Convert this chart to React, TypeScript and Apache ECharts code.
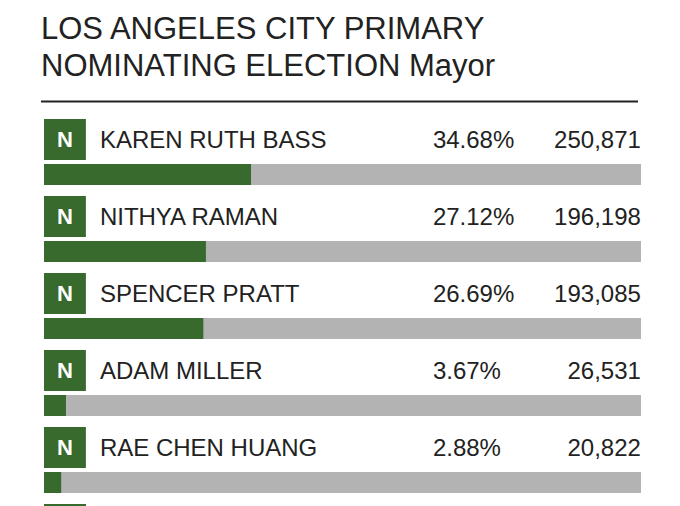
import React, { useEffect, useRef } from "react";
import * as echarts from "echarts";

const TITLE_LINES = ["LOS ANGELES CITY PRIMARY", "NOMINATING ELECTION Mayor"];
const PARTY = ["N", "N", "N", "N", "N", ""];
const NAMES = ["KAREN RUTH BASS", "NITHYA RAMAN", "SPENCER PRATT", "ADAM MILLER", "RAE CHEN HUANG", ""];
const PERCENTS = [34.68, 27.12, 26.69, 3.67, 2.88, 0];
const VOTES = ["250,871", "196,198", "193,085", "26,531", "20,822", ""];

const GREEN = "#376a2c";
const GRAY = "#b3b3b3";
const TEXT = "#222222";
const FONT = "'Liberation Sans', Arial, Helvetica, sans-serif";

export default function App() {
  const ref = useRef<HTMLDivElement>(null);
  useEffect(() => {
    if (!ref.current) return;
    const chart = echarts.init(ref.current, undefined, { renderer: "svg" });
    chart.setOption({
      animation: false,
      backgroundColor: "#ffffff",
      textStyle: { fontFamily: FONT },
      title: {
        text: TITLE_LINES.join("\n"),
        left: 41,
        top: 10,
        padding: 0,
        textStyle: {
          fontFamily: FONT,
          fontSize: 31,
          lineHeight: 37,
          fontWeight: "normal",
          color: TEXT,
        },
      },
      graphic: [
        {
          type: "line",
          shape: { x1: 41, y1: 101.5, x2: 638, y2: 101.5 },
          style: { stroke: TEXT, lineWidth: 2 },
        },
      ],
      grid: { left: 44, right: 39, top: 136, height: 462, containLabel: false },
      xAxis: { type: "value", min: 0, max: 100, show: false },
      yAxis: {
        type: "category",
        data: NAMES.map((n, i) => n || "row" + i),
        inverse: true,
        show: false,
      },
      series: [
        {
          type: "bar",
          data: PERCENTS,
          barWidth: 21,
          itemStyle: { color: GREEN },
          showBackground: true,
          backgroundStyle: { color: GRAY },
          label: {
            show: true,
            position: [0, -45],
            align: "left",
            verticalAlign: "top",
            formatter: (p: any) => {
              const i = p.dataIndex;
              if (!NAMES[i]) return "{nx| }";
              const pct = PERCENTS[i].toFixed(2) + "%";
              return (
                "{n|" + PARTY[i] + "}{sp| }{nm|" + NAMES[i] + "}{pc|" + pct + "}{ct|" + VOTES[i] + "}"
              );
            },
            rich: {
              n: {
                padding: [0, 13, 0, 13],
                height: 41,
                lineHeight: 41,
                backgroundColor: GREEN,
                color: "#ffffff",
                fontSize: 22,
                fontWeight: "bold",
                align: "left",
                fontFamily: FONT,
              },
              nx: {
                width: 42,
                height: 41,
                lineHeight: 41,
                backgroundColor: GREEN,
                fontSize: 22,
                align: "left",
              },
              sp: { width: 14, lineHeight: 41, fontSize: 24, align: "left" },
              nm: { width: 333, lineHeight: 41, fontSize: 24, color: TEXT, align: "left", fontFamily: FONT },
              pc: { width: 100, lineHeight: 41, fontSize: 24, color: TEXT, align: "left", fontFamily: FONT },
              ct: { width: 108, lineHeight: 41, fontSize: 24, color: TEXT, align: "right", fontFamily: FONT },
            },
          },
        },
      ],
    });
    return () => chart.dispose();
  }, []);
  return (
    <div
      style={{ position: "absolute", left: 0, top: 0, width: 680, height: 506, overflow: "hidden", background: "#fff" }}
    >
      <div ref={ref} style={{ width: 680, height: 600 }} />
    </div>
  );
}
